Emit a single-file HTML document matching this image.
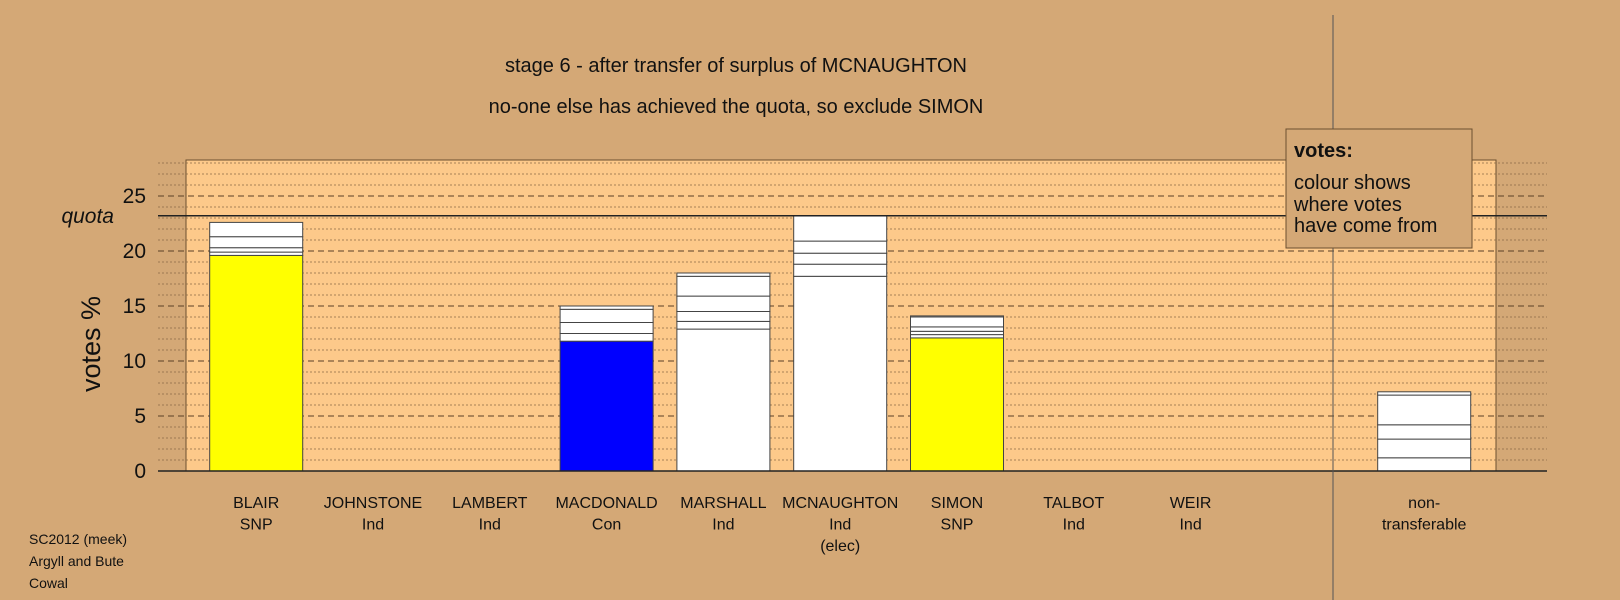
<!DOCTYPE html>
<html><head><meta charset="utf-8"><style>
html,body{margin:0;padding:0;background:#d4a876;}
svg{display:block;font-family:"Liberation Sans",Arial,sans-serif;}
</style></head><body>
<svg id="chart" width="1620" height="600" viewBox="0 0 1620 600" xmlns="http://www.w3.org/2000/svg">
<rect x="0" y="0" width="1620" height="600" fill="#d4a876"/>
<rect x="186" y="160" width="1310" height="311" fill="#fdc98a" stroke="#6b5030" stroke-width="1"/>
<text x="736" y="72" text-anchor="middle" font-size="20" fill="#111">stage 6 - after transfer of surplus of MCNAUGHTON</text>
<text x="736" y="113" text-anchor="middle" font-size="20" fill="#111">no-one else has achieved the quota, so exclude SIMON</text>
<g id="grid"></g>
<g id="yticks"></g>
<text transform="translate(100,344) rotate(-90)" text-anchor="middle" font-size="27" fill="#111">votes %</text>
<g id="bars"></g>
<line id="quotaLine" x1="158" x2="1547" stroke="#222" stroke-width="1.5"/>
<text id="quotaLabel" x="114" text-anchor="end" font-size="21" font-style="italic" fill="#111">quota</text>
<line x1="158" x2="1547" y1="471" y2="471" stroke="#222" stroke-width="1.5"/>
<line x1="1333" x2="1333" y1="15" y2="600" stroke="#555" stroke-width="1"/>
<g id="xlabels"></g>
<g>
<rect x="1286" y="129" width="186" height="119" fill="#d4a876" stroke="#6b5030" stroke-width="1"/>
<text x="1294" y="157" font-size="20" font-weight="bold" fill="#111">votes:</text>
<text x="1294" y="189" font-size="20" fill="#111">colour shows</text>
<text x="1294" y="211" font-size="20" fill="#111">where votes</text>
<text x="1294" y="232" font-size="20" fill="#111">have come from</text>
</g>
<text x="29" y="544" font-size="14" fill="#111">SC2012 (meek)</text>
<text x="29" y="566" font-size="14" fill="#111">Argyll and Bute</text>
<text x="29" y="588" font-size="14" fill="#111">Cowal</text>
</svg>
<script>
const categories = ["BLAIR","JOHNSTONE","LAMBERT","MACDONALD","MARSHALL","MCNAUGHTON","SIMON","TALBOT","WEIR","","non-"];
const parties = ["SNP","Ind","Ind","Con","Ind","Ind\n(elec)","SNP","Ind","Ind","","transferable"];
const baseValues = [19.6,0,0,11.8,0,0,12.1,0,0,0,0];
const baseColors = ["#ffff00","#fff","#fff","#0000ff","#fff","#fff","#ffff00","#fff","#fff","#fff","#fff"];
const segmentTops = [
  [19.9,20.3,21.3,22.6],
  [],[],
  [12.5,13.5,14.7,15.0],
  [12.9,13.6,14.5,15.9,17.7,18.0],
  [17.7,18.8,19.8,20.9,23.2],
  [12.4,12.7,13.1,14.0,14.1],
  [],[],[],
  [1.2,2.9,4.2,6.9,7.2]
];
const quota = 23.2;
const yTicks = [0,5,10,15,20,25];
const yMax = 28;

const NS = "http://www.w3.org/2000/svg";
const y0 = 471, pxPerUnit = 11;
const yScale = v => y0 - v * pxPerUnit;
const xCenter = i => 256.2 + i * 116.8;
const barW = 93;
function mk(tag, attrs, parent) { const e = document.createElementNS(NS, tag); for (const k in attrs) e.setAttribute(k, attrs[k]); parent.appendChild(e); return e; }

const grid = document.getElementById("grid");
for (let v = 1; v <= yMax; v++) {
  const y = yScale(v);
  const major = v % 5 === 0;
  const g = mk("line", {x1:158, x2:1547, y1:y, y2:y, stroke: major ? "#5a4025" : "#8a6a45", "stroke-width": major ? 1 : 0.8, "stroke-dasharray": major ? "6,4" : "2,2"}, grid);
  
  
}
const yt = document.getElementById("yticks");
yTicks.forEach(v => {
  const t = mk("text", {x:146, y:yScale(v) + 7, "text-anchor":"end", "font-size":21, fill:"#111"}, yt);
  t.textContent = v;
  
  
});
const ql = document.getElementById("quotaLine");
ql.setAttribute("y1", yScale(quota)); ql.setAttribute("y2", yScale(quota));
document.getElementById("quotaLabel").setAttribute("y", yScale(quota) + 7);

const bars = document.getElementById("bars");
categories.forEach((c, i) => {
  const x = xCenter(i) - barW / 2;
  const tops = segmentTops[i];
  if (baseValues[i] > 0) {
    const r = mk("rect", {x:x, y:yScale(baseValues[i]), width:barW, height:baseValues[i]*pxPerUnit, fill:baseColors[i], stroke:"#444", "stroke-width":1}, bars);
    
    
  }
  let prev = baseValues[i];
  tops.forEach(t => {
    const r = mk("rect", {x:x, y:yScale(t), width:barW, height:(t - prev)*pxPerUnit, fill:"#fff", stroke:"#444", "stroke-width":1}, bars);
    
    
    prev = t;
  });
});

const xl = document.getElementById("xlabels");
categories.forEach((c, i) => {
  const lines = [c].concat(parties[i].split("\n")).filter(s => s !== "");
  lines.forEach((s, j) => {
    const t = mk("text", {x:xCenter(i), y:508 + j*21.5, "text-anchor":"middle", "font-size":16, fill:"#111"}, xl);
    t.textContent = s;
    
    
  });
});
</script>
</body></html>
